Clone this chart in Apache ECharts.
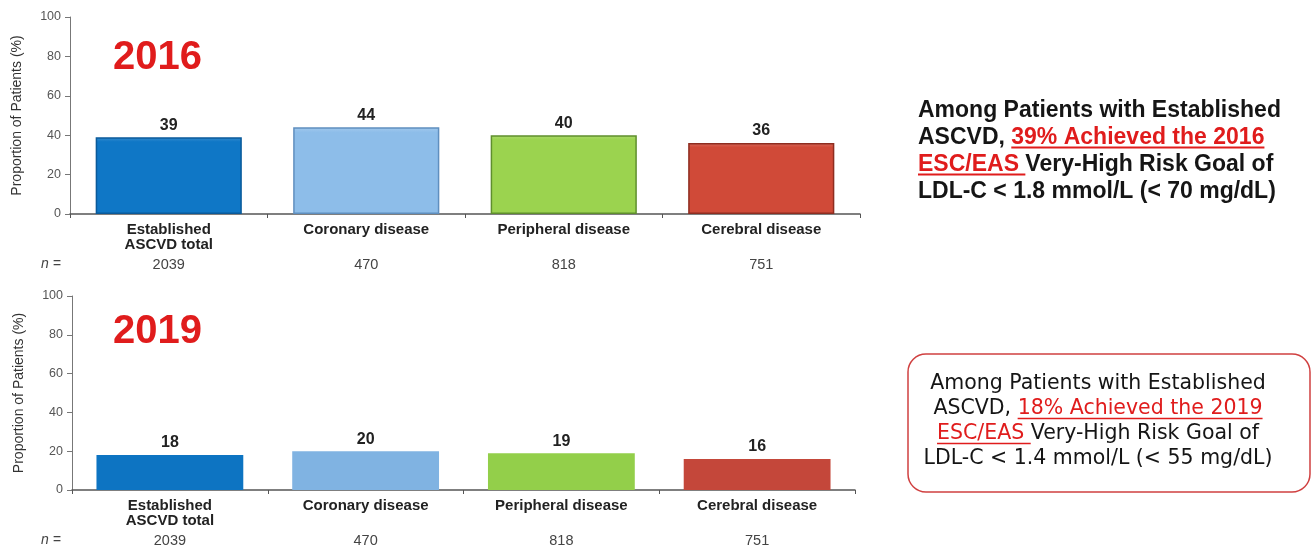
<!DOCTYPE html>
<html>
<head>
<meta charset="utf-8">
<script src="https://cdn.jsdelivr.net/npm/echarts@6/dist/echarts.min.js"></script>
<style>
html,body{margin:0;padding:0;background:#fff;}
#c{width:1315px;height:546px;}
</style>
</head>
<body>
<div id="c"></div>
<script>
// ---- data ----
const categories = ['Established\nASCVD total', 'Coronary disease', 'Peripheral disease', 'Cerebral disease'];
const nValues = ['2039', '470', '818', '751'];
const values2016 = [39, 44, 40, 36];
const values2019 = [18, 20, 19, 16];
const yTicks = [0, 20, 40, 60, 80, 100];
const yAxisName = 'Proportion of Patients (%)';
const year1 = '2016';
const year2 = '2019';

// ---- styles ----
const barColors = ['#0f77c6', '#8dbde9', '#9bd34f', '#d04a38'];
const barBorders = ['#0a5a9a', '#5f8fbf', '#5f8f2d', '#8e2d20'];
const flatColors = ['#0d74c2', '#80b3e2', '#93cf4a', '#c4473a'];
const RED = '#e01c1c';

function lighten(hex, f) {
  const n = parseInt(hex.slice(1), 16);
  let r = n >> 16, g = (n >> 8) & 255, b = n & 255;
  r = Math.round(r + (255 - r) * f); g = Math.round(g + (255 - g) * f); b = Math.round(b + (255 - b) * f);
  return 'rgb(' + r + ',' + g + ',' + b + ')';
}

const data1 = values2016.map((v, i) => ({
  value: v,
  itemStyle: {
    color: new echarts.graphic.LinearGradient(0, 0, 0, 1, [
      { offset: 0, color: lighten(barColors[i], 0.18) },
      { offset: 0.06, color: barColors[i] },
      { offset: 1, color: barColors[i] }
    ]),
    borderColor: barBorders[i],
    borderWidth: 1.5
  }
}));
const data2 = values2019.map((v, i) => ({ value: v, itemStyle: { color: flatColors[i] } }));

const chart = echarts.init(document.getElementById('c'), null, { renderer: 'canvas' });

function valueAxis(gi) {
  return {
    type: 'value', gridIndex: gi, min: yTicks[0], max: yTicks[yTicks.length - 1], interval: yTicks[1] - yTicks[0],
    name: yAxisName, nameLocation: 'middle', nameGap: 46,
    nameTextStyle: { fontFamily: 'Liberation Sans, Arial', fontSize: 14, color: '#333' },
    axisLine: { show: true, lineStyle: { color: '#777', width: 1 } },
    axisTick: { show: true, length: 5, lineStyle: { color: '#777' } },
    splitLine: { show: false },
    axisLabel: { fontFamily: 'Liberation Sans, Arial', fontSize: 12.5, color: '#555', margin: 9 }
  };
}
function catAxis(gi) {
  return {
    type: 'category', gridIndex: gi, data: categories,
    axisLine: { lineStyle: { color: '#555', width: 1.5 } },
    axisTick: { show: true, length: 4, lineStyle: { color: '#555' } },
    axisLabel: { fontFamily: 'Liberation Sans, Arial', fontSize: 15, fontWeight: 'bold', color: '#222', margin: 8, lineHeight: 15 }
  };
}
function nAxis(gi) {
  return {
    type: 'category', gridIndex: gi, data: nValues, position: 'bottom',
    axisLine: { show: false }, axisTick: { show: false },
    axisLabel: { fontFamily: 'Liberation Sans, Arial', fontSize: 14.5, color: '#444', margin: 43 }
  };
}
const labelStyle = { show: true, position: 'top', distance: 4, fontFamily: 'Liberation Sans, Arial', fontSize: 16, fontWeight: 'bold', color: '#222' };

// measure text widths for underline placement
const mctx = document.createElement('canvas').getContext('2d');
function tw(txt, font) { mctx.font = font; return mctx.measureText(txt).width; }

const F1 = 'bold 23px "Liberation Sans", Arial';
const x1 = 918, top1 = 97, lh1 = 27;
const u1s = x1 + tw('ASCVD, ', F1), u1e = u1s + tw('39% Achieved the 2016', F1);
const u2e = x1 + tw('ESC/EAS ', F1);

const F2 = '20.5px "DejaVu Sans"';
const cx2 = 1098, top2 = 371, lh2 = 25;
const l2a = tw('ASCVD, ', F2), l2b = tw('18% Achieved the 2019', F2);
const v1s = cx2 - (l2a + l2b) / 2 + l2a, v1e = v1s + l2b;
const l3a = tw('ESC/EAS ', F2), l3b = tw('Very-High Risk Goal of', F2);
const v2s = cx2 - (l3a + l3b) / 2, v2e = v2s + l3a;

const option = {
  animation: false,
  backgroundColor: '#ffffff',
  grid: [
    { left: 70, right: 455, top: 17, height: 197, containLabel: false, outerBoundsMode: 'none' },
    { left: 72, right: 460, top: 296, height: 194, containLabel: false, outerBoundsMode: 'none' }
  ],
  xAxis: [catAxis(0), nAxis(0), catAxis(1), nAxis(1)],
  yAxis: [valueAxis(0), valueAxis(1)],
  series: [
    { type: 'bar', xAxisIndex: 0, yAxisIndex: 0, data: data1, barWidth: '74%', label: labelStyle },
    { type: 'bar', xAxisIndex: 2, yAxisIndex: 1, data: data2, barWidth: '75%', label: labelStyle }
  ],
  graphic: [
    { type: 'text', left: 113, top: 38, style: { text: year1, font: 'bold 40px "Liberation Sans", Arial', fill: RED } },
    { type: 'text', left: 113, top: 312, style: { text: year2, font: 'bold 40px "Liberation Sans", Arial', fill: RED } },
    { type: 'text', left: 41, top: 257, style: { text: 'n =', font: 'italic 14px "Liberation Sans", Arial', fill: '#444' } },
    { type: 'text', left: 41, top: 533, style: { text: 'n =', font: 'italic 14px "Liberation Sans", Arial', fill: '#444' } },
    {
      type: 'text', x: x1, y: top1,
      style: {
        text: '{b|Among Patients with Established}\n{b|ASCVD, }{r|39% Achieved the 2016}\n{r|ESC/EAS }{b|Very-High Risk Goal of}\n{b|LDL-C < 1.8 mmol/L (< 70 mg/dL)}',
        rich: {
          b: { fontFamily: 'Liberation Sans, Arial', fontSize: 23, fontWeight: 'bold', fill: '#151515', lineHeight: lh1 },
          r: { fontFamily: 'Liberation Sans, Arial', fontSize: 23, fontWeight: 'bold', fill: RED, lineHeight: lh1 }
        }
      }
    },
    { type: 'line', shape: { x1: u1s, y1: top1 + lh1 * 1.5 + 10, x2: u1e, y2: top1 + lh1 * 1.5 + 10 }, style: { stroke: RED, lineWidth: 2 } },
    { type: 'line', shape: { x1: x1, y1: top1 + lh1 * 2.5 + 10, x2: u2e, y2: top1 + lh1 * 2.5 + 10 }, style: { stroke: RED, lineWidth: 2 } },
    { type: 'rect', shape: { x: 908, y: 354, width: 402, height: 138, r: 18 }, style: { fill: 'none', stroke: '#d04040', lineWidth: 1.5 } },
    {
      type: 'text', x: cx2, y: top2,
      style: {
        text: '{b|Among Patients with Established}\n{b|ASCVD, }{r|18% Achieved the 2019}\n{r|ESC/EAS }{b|Very-High Risk Goal of}\n{b|LDL-C < 1.4 mmol/L (< 55 mg/dL)}',
        align: 'center',
        rich: {
          b: { fontFamily: 'DejaVu Sans', fontSize: 20.5, fill: '#151515', lineHeight: lh2 },
          r: { fontFamily: 'DejaVu Sans', fontSize: 20.5, fill: RED, lineHeight: lh2 }
        }
      }
    },
    { type: 'line', shape: { x1: v1s, y1: top2 + lh2 * 1.5 + 10, x2: v1e, y2: top2 + lh2 * 1.5 + 10 }, style: { stroke: RED, lineWidth: 1.5 } },
    { type: 'line', shape: { x1: v2s, y1: top2 + lh2 * 2.5 + 10, x2: v2e, y2: top2 + lh2 * 2.5 + 10 }, style: { stroke: RED, lineWidth: 1.5 } }
  ]
};
chart.setOption(option);
</script>
</body>
</html>
